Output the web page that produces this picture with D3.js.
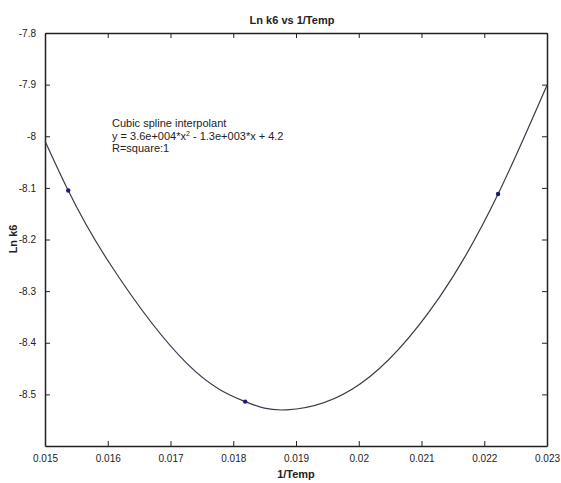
<!DOCTYPE html>
<html>
<head>
<meta charset="utf-8">
<script src="https://cdn.jsdelivr.net/npm/d3@7"></script>
<style>
  body { margin: 0; background: #fff; }
  text { font-family: "Liberation Sans", Arial, sans-serif; fill: #222; }
</style>
</head>
<body>
<svg id="chart" width="561" height="483"></svg>
<script>
// points (1/Temp, Ln k6)
const curveX = [0.015, 0.01537, 0.01604, 0.01726, 0.01819, 0.01885, 0.02002, 0.02129, 0.02222, 0.023];
const curveY = [-8.009, -8.105, -8.248, -8.440, -8.514, -8.530, -8.480, -8.311, -8.112, -7.901];

// measured data points (markers)
const pointX = [0.01537, 0.01819, 0.02222];
const pointY = [-8.105, -8.514, -8.112];

const xTicks = [0.015, 0.016, 0.017, 0.018, 0.019, 0.02, 0.021, 0.022, 0.023];
const xTickLabels = ["0.015", "0.016", "0.017", "0.018", "0.019", "0.02", "0.021", "0.022", "0.023"];
const yTicks = [-7.8, -7.9, -8, -8.1, -8.2, -8.3, -8.4, -8.5];
const yTickLabels = ["-7.8", "-7.9", "-8", "-8.1", "-8.2", "-8.3", "-8.4", "-8.5"];

const svg = d3.select("#chart");
const plotLeft = 45, plotRight = 547, plotTop = 33, plotBottom = 446;

const x = d3.scaleLinear().domain([0.015, 0.023]).range([plotLeft, plotRight]);
const y = d3.scaleLinear().domain([-8.6, -7.8]).range([plotBottom, plotTop]);

// axes: ticks pointing inward, mirrored on top and right
const axisColor = "#222";
svg.append("g").attr("transform", `translate(0,${plotBottom})`)
  .call(d3.axisBottom(x).tickValues(xTicks).tickSizeInner(-5).tickSizeOuter(0).tickPadding(9)
    .tickFormat((d, i) => xTickLabels[i]));
svg.append("g").attr("transform", `translate(0,${plotTop})`)
  .call(d3.axisTop(x).tickValues(xTicks).tickSizeInner(-5).tickSizeOuter(0).tickFormat(""));
svg.append("g").attr("transform", `translate(${plotLeft},0)`)
  .call(d3.axisLeft(y).tickValues(yTicks).tickSizeInner(-5).tickSizeOuter(0).tickPadding(9)
    .tickFormat((d, i) => yTickLabels[i]));
svg.append("g").attr("transform", `translate(${plotRight},0)`)
  .call(d3.axisRight(y).tickValues(yTicks).tickSizeInner(-5).tickSizeOuter(0).tickFormat(""));

svg.selectAll(".domain").attr("stroke", axisColor).attr("stroke-width", 1.5);
svg.selectAll(".tick line").attr("stroke", axisColor);
svg.selectAll(".tick text").attr("font-size", 10).attr("fill", "#333")
  .attr("font-family", "'Liberation Sans', Arial, sans-serif");

// fitted curve (natural cubic spline through the read points)
const line = d3.line()
  .x((d, i) => x(curveX[i]))
  .y((d, i) => y(curveY[i]))
  .curve(d3.curveNatural);
svg.append("path")
  .attr("d", line(curveX))
  .attr("fill", "none")
  .attr("stroke", "#3a3a4a")
  .attr("stroke-width", 1.2);

// data markers
svg.selectAll(".pt")
  .data(pointX)
  .enter().append("circle")
  .attr("class", "pt")
  .attr("cx", d => x(d))
  .attr("cy", (d, i) => y(pointY[i]))
  .attr("r", 2.2)
  .attr("fill", "#1c1c7a");

// titles
svg.append("text").attr("x", 292).attr("y", 24).attr("text-anchor", "middle")
  .attr("font-size", 11).attr("font-weight", "bold").text("Ln k6 vs 1/Temp");
svg.append("text").attr("x", 296).attr("y", 478).attr("text-anchor", "middle")
  .attr("font-size", 11).attr("font-weight", "bold").text("1/Temp");
svg.append("text").attr("transform", "translate(17,239) rotate(-90)").attr("text-anchor", "middle")
  .attr("font-size", 11).attr("font-weight", "bold").text("Ln k6");

// annotation
const note = svg.append("g").attr("font-size", 11);
note.append("text").attr("x", 112).attr("y", 127).text("Cubic spline interpolant");
const eq = note.append("text").attr("x", 112).attr("y", 140);
eq.append("tspan").text("y = 3.6e+004*x");
eq.append("tspan").attr("dy", -4).attr("font-size", 7).text("2");
eq.append("tspan").attr("dy", 4).text(" - 1.3e+003*x + 4.2");
note.append("text").attr("x", 112).attr("y", 152).text("R=square:1");
</script>
</body>
</html>
